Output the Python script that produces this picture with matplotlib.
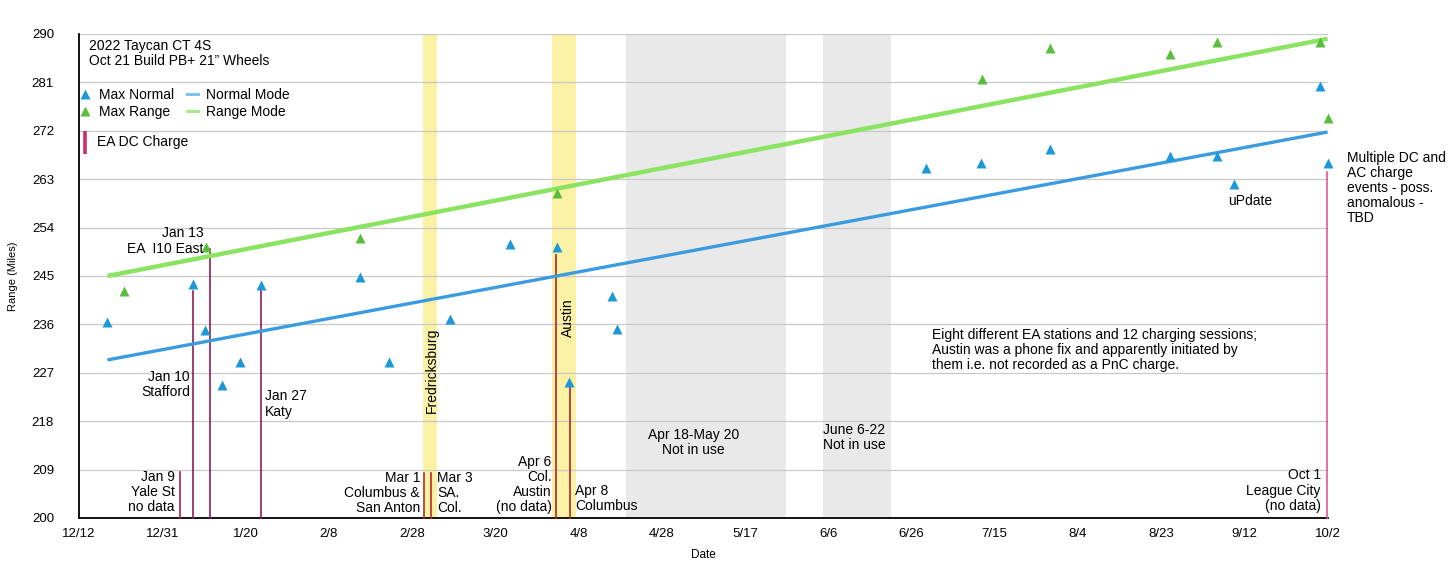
import numpy as np
import matplotlib
matplotlib.use("Agg")
import matplotlib.pyplot as plt
from matplotlib.lines import Line2D

plt.rcParams['font.family'] = ['Liberation Sans', 'DejaVu Sans']

# ---- data (x = days after 12/12/2021) ----
normal_days = [6.7, 26.8, 29.7, 33.7, 37.9, 42.9, 66.2, 73.1, 87.4, 101.5, 112.6,
               115.5, 125.6, 126.6, 199.5, 212.4, 228.7, 256.9, 267.9, 272.0, 292.2, 294.0]
normal_vals = [236.4, 243.6, 235.0, 224.7, 229.1, 243.3, 244.9, 229.1, 237.0, 250.9, 250.3,
               225.2, 241.2, 235.1, 265.0, 266.1, 268.6, 267.4, 267.4, 262.2, 280.3, 266.1]

range_days = [10.6, 29.9, 66.2, 112.6, 212.6, 228.7, 256.9, 267.9, 292.2, 294.0]
range_vals = [242.2, 250.3, 252.0, 260.4, 281.6, 287.4, 286.2, 288.6, 288.6, 274.4]

charge_days = [23.8, 26.9, 30.9, 42.9, 81.3, 82.9, 112.4, 115.6, 293.9]
charge_tops = [208.6, 242.2, 250.0, 242.4, 208.3, 208.3, 248.9, 224.1, 264.4]
charge_colors = ['#a8234a', '#8e1f55', '#8e1f55', '#8e1f55', '#b2302c', '#b2302c',
                 '#a52a2a', '#a52a2a', '#e2559d']

yellow_spans = [(80.9, 84.4), (111.4, 117.0)]
grey_spans = [(128.8, 166.5), (175.1, 191.2)]

x_ticklabels = ['12/12', '12/31', '1/20', '2/8', '2/28', '3/20', '4/8', '4/28',
                '5/17', '6/6', '6/26', '7/15', '8/4', '8/23', '9/12', '10/2']
x_max = 294
y_ticks = [200, 209, 218, 227, 236, 245, 254, 263, 272, 281, 290]

# ---- figure ----
fig = plt.figure(figsize=(14.53, 5.64), dpi=100)
ax = fig.add_axes([79/1453, 46/564, 1248.5/1453, 484/564])

blue = '#1c98d8'
green = '#5bbd3c'
blue_line = '#3b9be0'
green_line = '#8ae462'

for a, b in yellow_spans:
    ax.axvspan(a, b, color='#fbf1a4', zorder=0.2, lw=0)
for a, b in grey_spans:
    ax.axvspan(a, b, color='#e9e9e9', zorder=0.2, lw=0)

ax.set_axisbelow(True)
ax.yaxis.grid(True, color='#c8c8c8', lw=0.9)
ax.xaxis.grid(False)

# charge lines
for d, t, c in zip(charge_days, charge_tops, charge_colors):
    ax.plot([d, d], [200, t], color=c, lw=1.2, zorder=3, clip_on=False)

# trend lines (linear fits)
xs = np.array([min(normal_days + range_days), max(normal_days + range_days)])
pn = np.polyfit(normal_days, normal_vals, 1)
pr = np.polyfit(range_days, range_vals, 1)
ax.plot(xs, np.polyval(pn, xs), color=blue_line, lw=2.4, zorder=4, solid_capstyle='butt')
ax.plot(xs, np.polyval(pr, xs), color=green_line, lw=3.2, zorder=4, solid_capstyle='butt')

ax.plot(normal_days, normal_vals, ls='none', marker='^', ms=6.5, color=blue, mec='none',
        zorder=5, clip_on=False)
ax.plot(range_days, range_vals, ls='none', marker='^', ms=6.5, color=green, mec='none',
        zorder=5, clip_on=False)

ax.set_xlim(0, x_max)
ax.set_ylim(200, 290)
ax.set_xticks(np.linspace(0, x_max, len(x_ticklabels)))
ax.set_xticklabels(x_ticklabels)
ax.set_yticks(y_ticks)
ax.tick_params(axis='both', length=0, labelsize=9.5, colors='black')
ax.tick_params(axis='y', pad=18)
ax.tick_params(axis='x', pad=7)
for s in ['top', 'right']:
    ax.spines[s].set_visible(False)
ax.spines['left'].set_linewidth(1.3)
ax.spines['bottom'].set_linewidth(1.3)
ax.set_xlabel('Date', fontsize=8.5, labelpad=7)
ax.set_ylabel('Range (Miles)', fontsize=8, labelpad=10)

# ---- texts ----
fs = 10
ls = 1.1
ax.text(0.0082, 0.99, '2022 Taycan CT 4S\nOct 21 Build PB+ 21\u201d Wheels', transform=ax.transAxes,
        fontsize=fs, va='top', ha='left', linespacing=ls)

h1 = [Line2D([], [], ls='none', marker='^', ms=6.5, color=blue, mec='none'),
      Line2D([], [], ls='none', marker='^', ms=6.5, color=green, mec='none'),
      Line2D([], [], color='#7cc3ee', lw=2.2),
      Line2D([], [], color='#a6ec8c', lw=2.2)]
ax.legend(h1, ['Max Normal', 'Max Range', 'Normal Mode', 'Range Mode'], ncol=2,
          loc='upper left', bbox_to_anchor=(0.0006, 0.889), frameon=False, fontsize=fs,
          handlelength=0.8, handletextpad=0.6, columnspacing=0.9, labelspacing=0.2,
          borderpad=0, borderaxespad=0)

# EA DC Charge key
ax.plot([0.0048, 0.0048], [0.7525, 0.80], transform=ax.transAxes, color='#c8306c', lw=2.6,
        solid_capstyle='butt', zorder=6)
ax.text(0.0145, 0.777, 'EA DC Charge', transform=ax.transAxes, fontsize=fs, ha='left', va='center')

txt = dict(fontsize=fs, linespacing=ls, zorder=6)
ax.text(29.3, 251.5, 'Jan 13\nEA  I10 East', ha='right', va='center', multialignment='right', **txt)
ax.text(26.1, 224.9, 'Jan 10\nStafford', ha='right', va='center', multialignment='right', **txt)
ax.text(43.8, 221.2, 'Jan 27\nKaty', ha='left', va='center', **txt)
ax.text(22.6, 204.9, 'Jan 9\nYale St\nno data', ha='right', va='center', multialignment='right', **txt)
ax.text(80.3, 204.7, 'Mar 1\nColumbus &\nSan Anton', ha='right', va='center', multialignment='right', **txt)
ax.text(84.4, 204.7, 'Mar 3\nSA.\nCol.', ha='left', va='center', **txt)
ax.text(111.3, 206.2, 'Apr 6\nCol.\nAustin\n(no data)', ha='right', va='center', multialignment='right', **txt)
ax.text(116.8, 203.7, 'Apr 8\nColumbus', ha='left', va='center', **txt)
ax.text(83.1, 227.5, 'Fredricksburg', rotation=90, ha='center', va='center', **txt)
ax.text(115.2, 237.2, 'Austin', rotation=90, ha='center', va='center', **txt)
ax.text(144.7, 214.1, 'Apr 18-May 20\nNot in use', ha='center', va='center', multialignment='center', **txt)
ax.text(182.5, 214.9, 'June 6-22\nNot in use', ha='center', va='center', multialignment='center', **txt)
ax.text(275.8, 259.0, 'uPdate', ha='center', va='center', **txt)
ax.text(298.6, 261.4, 'Multiple DC and\nAC charge\nevents - poss.\nanomalous -\nTBD', ha='left', va='center',
        clip_on=False, **txt)
ax.text(200.9, 231.3, 'Eight different EA stations and 12 charging sessions;\nAustin was a phone fix and '
        'apparently initiated by\nthem i.e. not recorded as a PnC charge.', ha='left', va='center', **txt)
ax.text(292.4, 205.1, 'Oct 1\nLeague City\n(no data)', ha='right', va='center', multialignment='right', **txt)

fig.savefig('out.png', dpi=100)
